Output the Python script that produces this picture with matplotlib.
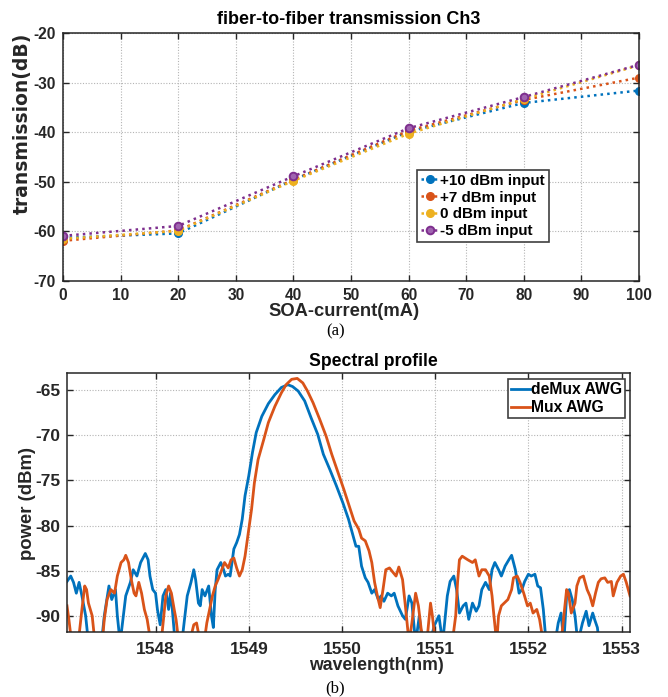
import numpy as np
import matplotlib
matplotlib.use("Agg")
import matplotlib.pyplot as plt

plt.rcParams['font.family'] = ['Liberation Sans', 'DejaVu Sans']
plt.rcParams['font.weight'] = 'bold'
plt.rcParams['axes.unicode_minus'] = False

# (a) fiber-to-fiber transmission
current = [0, 20, 40, 60, 80, 100]
p10 = [-61.3, -60.4, -49.6, -39.9, -34.1, -31.6]
p7 = [-61.9, -59.8, -49.6, -39.7, -33.5, -29.0]
p0 = [-61.5, -59.9, -49.8, -40.3, -33.3, -26.5]
m5 = [-60.9, -58.9, -48.9, -39.2, -32.9, -26.4]
labels_a = ['+10 dBm input', '+7 dBm input', '0 dBm input', '-5 dBm input']

# (b) spectral profile
wl_demux = [1547.05, 1547.09, 1547.12, 1547.15, 1547.18, 1547.21, 1547.25, 1547.28, 1547.32, 1547.41,
            1547.45, 1547.50, 1547.53, 1547.57, 1547.59, 1547.62, 1547.68, 1547.73, 1547.76, 1547.80,
            1547.84, 1547.89, 1547.92, 1547.94, 1547.97, 1548.00, 1548.02, 1548.05, 1548.08, 1548.11,
            1548.14, 1548.16, 1548.18, 1548.21, 1548.27, 1548.34, 1548.38, 1548.41, 1548.43, 1548.46,
            1548.48, 1548.50, 1548.53, 1548.57, 1548.60, 1548.62, 1548.64, 1548.66, 1548.70, 1548.73,
            1548.75, 1548.78, 1548.80, 1548.84, 1548.87, 1548.90, 1548.93, 1548.96, 1549.00, 1549.04,
            1549.08, 1549.14, 1549.21, 1549.28, 1549.35, 1549.42, 1549.47, 1549.53, 1549.60, 1549.67,
            1549.74, 1549.80, 1549.87, 1549.94, 1550.01, 1550.07, 1550.11, 1550.15, 1550.18, 1550.21,
            1550.25, 1550.28, 1550.32, 1550.35, 1550.39, 1550.42, 1550.45, 1550.49, 1550.53, 1550.56,
            1550.60, 1550.65, 1550.68, 1550.72, 1550.75, 1550.79, 1550.83, 1550.86, 1550.92, 1550.99,
            1551.04, 1551.08, 1551.13, 1551.16, 1551.20, 1551.23, 1551.26, 1551.30, 1551.33, 1551.36,
            1551.40, 1551.44, 1551.47, 1551.50, 1551.54, 1551.58, 1551.61, 1551.64, 1551.68, 1551.71,
            1551.75, 1551.79, 1551.82, 1551.86, 1551.90, 1551.93, 1551.96, 1552.00, 1552.03, 1552.07,
            1552.10, 1552.13, 1552.16, 1552.19, 1552.27, 1552.32, 1552.35, 1552.38, 1552.41, 1552.44,
            1552.47, 1552.50, 1552.53, 1552.58, 1552.62, 1552.65, 1552.69, 1552.71, 1552.74, 1552.76,
            1552.80]
pw_demux = [-86.2, -85.6, -86.3, -87.5, -86.3, -87.8, -90.0, -93.0, -94.0, -94.0,
            -90.0, -86.7, -88.2, -87.1, -90.0, -93.0, -87.8, -86.3, -84.9, -85.6,
            -84.1, -83.1, -83.8, -85.6, -87.1, -87.5, -89.3, -91.0, -87.8, -87.1,
            -89.3, -87.5, -89.3, -93.0, -94.0, -87.8, -86.3, -84.9, -86.0, -88.6,
            -88.9, -87.1, -87.8, -86.7, -90.0, -91.3, -87.1, -84.9, -84.1, -84.9,
            -85.6, -85.4, -85.6, -82.6, -81.9, -81.0, -79.3, -76.7, -74.5, -71.9,
            -69.7, -67.9, -66.5, -65.5, -64.7, -64.4, -64.6, -65.1, -66.2, -68.1,
            -69.9, -72.1, -73.8, -75.6, -77.5, -79.3, -80.8, -82.3, -82.3, -84.5,
            -85.8, -86.3, -87.5, -87.1, -88.2, -87.8, -88.4, -87.5, -87.8, -87.5,
            -88.9, -90.0, -90.4, -87.8, -88.6, -93.0, -90.0, -93.0, -94.0, -91.1,
            -90.0, -93.0, -87.8, -86.2, -85.6, -87.1, -89.7, -88.9, -88.6, -90.4,
            -88.6, -89.5, -88.9, -87.1, -86.3, -87.1, -84.9, -84.1, -84.9, -85.6,
            -84.5, -83.8, -83.3, -84.9, -87.5, -87.1, -86.2, -85.4, -85.6, -85.4,
            -86.7, -86.9, -89.3, -93.0, -94.0, -90.8, -89.7, -93.0, -87.8, -87.1,
            -88.2, -90.0, -93.0, -90.8, -89.5, -91.1, -89.7, -90.4, -91.3, -93.0,
            -95.0]

wl_mux = [1547.05, 1547.07, 1547.10, 1547.16, 1547.21, 1547.24, 1547.26, 1547.28, 1547.32, 1547.35,
          1547.42, 1547.45, 1547.48, 1547.52, 1547.56, 1547.59, 1547.63, 1547.66, 1547.68, 1547.71,
          1547.74, 1547.77, 1547.79, 1547.82, 1547.85, 1547.88, 1547.91, 1547.95, 1548.05, 1548.11,
          1548.14, 1548.17, 1548.20, 1548.22, 1548.25, 1548.34, 1548.41, 1548.44, 1548.48, 1548.52,
          1548.55, 1548.58, 1548.61, 1548.64, 1548.67, 1548.71, 1548.74, 1548.78, 1548.81, 1548.84,
          1548.87, 1548.90, 1548.93, 1548.96, 1548.99, 1549.03, 1549.06, 1549.10, 1549.16, 1549.21,
          1549.28, 1549.35, 1549.40, 1549.46, 1549.52, 1549.58, 1549.63, 1549.69, 1549.76, 1549.83,
          1549.89, 1549.96, 1550.02, 1550.08, 1550.13, 1550.18, 1550.21, 1550.25, 1550.29, 1550.32,
          1550.35, 1550.38, 1550.41, 1550.44, 1550.47, 1550.51, 1550.54, 1550.58, 1550.61, 1550.65,
          1550.68, 1550.72, 1550.75, 1550.79, 1550.82, 1550.85, 1550.90, 1550.95, 1550.97, 1551.00,
          1551.17, 1551.22, 1551.24, 1551.26, 1551.29, 1551.35, 1551.40, 1551.43, 1551.47, 1551.50,
          1551.54, 1551.58, 1551.61, 1551.63, 1551.66, 1551.68, 1551.71, 1551.74, 1551.78, 1551.82,
          1551.84, 1551.88, 1551.91, 1551.95, 1551.99, 1552.02, 1552.05, 1552.09, 1552.12, 1552.16,
          1552.34, 1552.38, 1552.41, 1552.43, 1552.46, 1552.50, 1552.52, 1552.55, 1552.59, 1552.63,
          1552.66, 1552.69, 1552.72, 1552.75, 1552.78, 1552.82, 1552.85, 1552.89, 1552.91, 1552.95,
          1552.99, 1553.02, 1553.05, 1553.09]
pw_mux = [-88.9, -90.4, -93.0, -94.0, -89.3, -86.7, -87.1, -88.6, -90.0, -93.0,
          -94.0, -90.4, -88.2, -87.1, -87.5, -85.6, -84.1, -83.8, -83.3, -84.1,
          -86.0, -87.5, -87.8, -86.3, -87.5, -89.3, -90.4, -93.0, -94.0, -87.8,
          -86.7, -87.5, -89.3, -90.4, -93.0, -94.0, -91.0, -90.8, -93.0, -93.0,
          -90.8, -89.3, -87.8, -86.7, -86.0, -84.9, -84.1, -84.7, -83.8, -83.6,
          -84.7, -85.6, -84.9, -83.4, -81.2, -78.2, -75.3, -72.7, -70.5, -68.6,
          -66.8, -65.3, -64.4, -63.8, -63.7, -64.2, -65.1, -66.4, -68.2, -70.1,
          -72.1, -74.2, -76.0, -77.9, -79.5, -80.4, -81.4, -81.7, -82.8, -84.1,
          -86.3, -87.8, -89.1, -87.1, -84.9, -84.7, -85.1, -85.6, -84.6, -86.0,
          -88.9, -93.0, -90.8, -87.5, -88.9, -91.5, -94.0, -88.6, -90.0, -93.0,
          -94.0, -90.0, -86.3, -83.8, -83.4, -83.8, -84.1, -83.8, -85.6, -84.9,
          -84.9, -85.6, -87.8, -90.0, -93.0, -90.0, -88.9, -88.6, -88.2, -87.1,
          -85.8, -85.6, -86.3, -87.5, -88.9, -88.6, -89.7, -89.3, -90.4, -93.0,
          -94.0, -90.0, -87.1, -87.5, -89.7, -88.6, -86.7, -85.8, -85.6, -87.1,
          -87.8, -88.9, -87.5, -86.3, -85.9, -85.8, -86.3, -86.2, -87.8, -86.3,
          -85.6, -85.4, -86.3, -87.8]

blue = '#0072BD'
orange = '#D95319'
yellow = '#EDB120'
purple = '#7E2F8E'
dark = '#262626'
W, H = 668, 697

fig = plt.figure(figsize=(W / 100, H / 100), dpi=100)

def style_axes(ax, fs):
    ax.grid(True, color='#b4b4b4', linestyle=(0, (1, 1.5)), linewidth=0.8)
    ax.set_axisbelow(True)
    ax.tick_params(direction='in', top=True, right=True, length=4, width=1,
                   labelsize=fs, colors=dark, pad=5)
    for s in ax.spines.values():
        s.set_color(dark)
        s.set_linewidth(1.1)
    for lab in ax.get_xticklabels() + ax.get_yticklabels():
        lab.set_fontweight('bold')

# ---- top
ax1 = fig.add_axes([63 / W, 1 - 281 / H, 576 / W, 248 / H])
ax1.plot(current, p10, ':', color=blue, lw=1.8, marker='.', ms=11, label=labels_a[0])
ax1.plot(current, p7, ':', color=orange, lw=1.8, marker='.', ms=11, label=labels_a[1])
ax1.plot(current, p0, ':', color=yellow, lw=1.8, marker='.', ms=11, label=labels_a[2])
ax1.plot(current, m5, ':', color=purple, lw=1.8, marker='o', ms=5.5, mfc='#a064b0',
         mec=purple, mew=1.4, label=labels_a[3])
ax1.set_xlim(0, 100)
ax1.set_ylim(-70, -20)
ax1.set_xticks(np.arange(0, 101, 10))
ax1.set_yticks(np.arange(-70, -19, 10))
style_axes(ax1, 11.2)
ax1.set_title('fiber-to-fiber transmission Ch3', fontsize=13, fontweight='bold', pad=0,
              x=(348.7 - 63) / 576, y=(281 - 19.5) / 248, va='center', color='black')
ax1.set_xlabel('SOA-current(mA)', fontsize=13.2, fontweight='bold', color=dark)
ax1.xaxis.set_label_coords((344 - 63) / 576, (281 - 303) / 248)
ax1.set_ylabel('transmission(dB)', family='DejaVu Sans', fontsize=13.5, fontweight='bold',
               color=dark, va='center')
ax1.yaxis.set_label_coords((22 - 63) / 576, (281 - 123.5) / 248)
leg1 = ax1.legend(loc='upper left', bbox_to_anchor=(417 / W, 1 - 170 / H),
                  bbox_transform=fig.transFigure, fontsize=10.9, frameon=True,
                  fancybox=False, framealpha=1, edgecolor='#404040', borderpad=0.25,
                  labelspacing=0.18, handlelength=1.2, handletextpad=0.1, borderaxespad=0)
leg1.get_frame().set_linewidth(1.2)
for t in leg1.get_texts():
    t.set_fontweight('bold')

# ---- bottom
ax2 = fig.add_axes([67 / W, 1 - 632 / H, 563 / W, 259 / H])
ax2.plot(wl_demux, pw_demux, '-', color=blue, lw=2.0, label='deMux AWG')
ax2.plot(wl_mux, pw_mux, '-', color=orange, lw=2.0, label='Mux AWG')
ax2.set_xlim(1547.05, 1553.09)
ax2.set_ylim(-91.8, -63.1)
ax2.set_xticks(np.arange(1548, 1554, 1))
ax2.set_yticks(np.arange(-90, -64, 5))
style_axes(ax2, 12.5)
ax2.tick_params(axis='x', pad=7)
ax2.set_title('Spectral profile', fontsize=12.7, fontweight='bold', pad=0,
              x=(373 - 67) / 563, y=(632 - 361) / 259, va='center', color='black')
ax2.set_xlabel('wavelength(nm)', fontsize=12.7, fontweight='bold', color=dark)
ax2.xaxis.set_label_coords((376 - 67) / 563, (632 - 657) / 259)
ax2.set_ylabel('power (dBm)', fontsize=13.3, fontweight='bold', color=dark, va='center')
ax2.yaxis.set_label_coords((27 - 67) / 563, (632 - 503) / 259)
leg2 = ax2.legend(loc='upper left', bbox_to_anchor=(508 / W, 1 - 379 / H),
                  bbox_transform=fig.transFigure, fontsize=11.3, frameon=True,
                  fancybox=False, framealpha=1, edgecolor='#404040', borderpad=0.2,
                  labelspacing=0.2, handlelength=1.2, handletextpad=0.05, borderaxespad=0)
leg2.get_frame().set_linewidth(1.2)
for t in leg2.get_texts():
    t.set_fontweight('bold')

fig.text(336 / W, 1 - 331 / H, '(a)', family='Liberation Serif', fontweight='normal',
         fontsize=12, ha='center', va='center')
fig.text(335 / W, 1 - 688 / H, '(b)', family='Liberation Serif', fontweight='normal',
         fontsize=12, ha='center', va='center')

fig.savefig('out.png', dpi=100)
